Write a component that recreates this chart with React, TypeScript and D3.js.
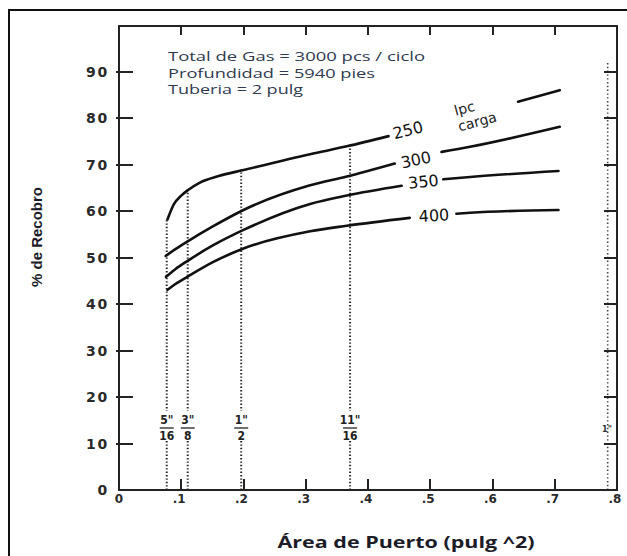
import React from 'react';
import * as d3 from 'd3';

// port area (pulg^2) vs % recovery, one curve per injection pressure (lpc)
const pressures = ['250', '300', '350', '400'];

// null = curve is interrupted by its label
const area250 = [0.078, 0.088, 0.1, 0.111, 0.13, 0.16, 0.2, 0.307, 0.366, 0.433, null, 0.641, 0.708];
const rec250 = [58.3, 61.5, 63.4, 64.6, 66.2, 67.6, 68.9, 72.3, 74.0, 76.2, null, 83.6, 86.1];

const area300 = [0.075, 0.09, 0.111, 0.15, 0.2, 0.307, 0.366, 0.443, null, 0.518, 0.564, 0.708];
const rec300 = [50.4, 51.8, 53.6, 56.7, 60.3, 65.6, 67.5, 70.3, null, 72.8, 73.9, 78.2];

const area350 = [0.0755, 0.09, 0.111, 0.15, 0.2, 0.307, 0.366, 0.454, null, 0.521, 0.564, 0.706];
const rec350 = [45.9, 47.5, 49.4, 52.6, 56.0, 61.6, 63.4, 65.5, null, 66.9, 67.4, 68.7];

const area400 = [0.078, 0.09, 0.111, 0.15, 0.2, 0.307, 0.366, 0.467, null, 0.542, 0.564, 0.706];
const rec400 = [43.1, 44.3, 46.0, 49.0, 52.0, 55.7, 56.9, 58.6, null, 59.5, 59.7, 60.3];

// where each pressure label sits (area, % recobro, rotation)
const labelArea = [0.464, 0.477, 0.489, 0.506];
const labelRec = [77.5, 71.1, 66.4, 59.1];
const labelRot = [-14, -12, -6, -3];

// port sizes (inch), vertical dotted lines
const portNum = ['5"', '3"', '1"', '11"'];
const portDen = ['16', '8', '2', '16'];
const portArea = [0.0767, 0.1104, 0.1963, 0.3712];
const portTop = [58.5, 65.0, 69.0, 74.0];

const yTicks = [0, 10, 20, 30, 40, 50, 60, 70, 80, 90];
const xTicks = [0, 0.1, 0.2, 0.3, 0.4, 0.5, 0.6, 0.7, 0.8];
const xTickLabels = ['0', '.1', '.2', '.3', '.4', '.5', '.6', '.7', '.8'];

const notes = ['Total de Gas = 3000 pcs / ciclo', 'Profundidad = 5940 pies', 'Tuberia = 2 pulg'];
const noteWidths = [257, 207, 135];

const W = 627;
const H = 556;

const x = d3.scaleLinear().domain([0, 0.8]).range([119, 617]);
const y = d3.scaleLinear().domain([0, 100]).range([490, 25.6]);

const ink = '#232323';

// plain html bar, used for the plot box and its ticks
function Bar({ left, top, width, height }: { left: number; top: number; width: number; height: number }) {
  return <div style={{ position: 'absolute', left, top, width, height, background: ink }} />;
}

export default function App() {
  const curves = [
    [area250, rec250],
    [area300, rec300],
    [area350, rec350],
    [area400, rec400],
  ].map(([a, r]) => a.map((v, i) => ({ a: v, r: r[i] })));

  const line = d3
    .line<any>()
    .defined((d) => d.a != null && d.r != null)
    .x((d) => x(d.a))
    .y((d) => y(d.r))
    .curve(d3.curveMonotoneX);

  const x0 = x(0);
  const x1 = x(0.8);
  const y0 = y(0);
  const y1 = y(100);
  const inner = xTicks.filter((t) => t > 0 && t < 0.8);
  const yIn = yTicks.filter((t) => t > 0);

  return (
    <div style={{ position: 'fixed', left: 0, top: 0, width: W, height: H, background: '#fff', overflow: 'hidden' }}>
      <svg width={W} height={H} style={{ position: 'absolute', left: 0, top: 0 }}>
        {/* outer frame, only top and left show */}
        <path d={`M9,${H}V10H${W}`} fill="none" stroke="#111" strokeWidth={2} />

        {/* notes */}
        {notes.map((t, i) => (
          <text key={t} x={168} y={61 + i * 16.5} fontFamily="Open Sans" fontSize={13.5} fill="#2f3a4f"
            textLength={noteWidths[i]} lengthAdjust="spacingAndGlyphs">
            {t}
          </text>
        ))}

        {/* dotted port lines */}
        {portArea.map((a, i) => (
          <line key={'p' + i} x1={x(a)} x2={x(a)} y1={y0} y2={y(portTop[i])}
            stroke="#2a2a2a" strokeWidth={2} strokeDasharray="1.4,2" />
        ))}
        <line x1={x(0.785)} x2={x(0.785)} y1={y0} y2={y(92)} stroke="#444" strokeWidth={1.6} strokeDasharray="1.4,2.4" />

        {/* fraction labels */}
        {portArea.map((a, i) => (
          <g key={'f' + i} transform={`translate(${x(a)},0)`} fontFamily="DejaVu Sans Condensed" fontWeight={700} fontSize={12} fill="#222">
            <rect x={-8} y={411} width={16} height={30} fill="#fff" />
            <text x={0} y={424} textAnchor="middle">{portNum[i]}</text>
            <line x1={-7} x2={7} y1={428} y2={428} stroke="#222" strokeWidth={1.3} />
            <text x={0} y={440} textAnchor="middle">{portDen[i]}</text>
          </g>
        ))}
        <text x={607} y={432} fontFamily="DejaVu Sans Condensed" fontWeight={700} fontSize={9} fill="#333" textAnchor="middle">1"</text>

        {yTicks.map((t) => (
          <text key={'yl' + t} x={109} y={y(t) + 5} textAnchor="end" fontFamily="DejaVu Sans" fontWeight={700}
            fontSize={14} letterSpacing={1.8} fill="#2a2a2a">
            {t}
          </text>
        ))}
        {xTicks.map((t, i) => (
          <text key={'xl' + t} x={x(t) - (i === 0 ? 0 : 2)} y={503} textAnchor="middle" fontFamily="DejaVu Sans"
            fontWeight={700} fontSize={12} fill="#2a2a2a">
            {xTickLabels[i]}
          </text>
        ))}

        {/* curves */}
        {curves.map((c, i) => (
          <path key={pressures[i]} d={line(c) || ''} fill="none" stroke="#111" strokeWidth={2.6} strokeLinecap="round" />
        ))}

        {/* pressure labels */}
        {pressures.map((p, i) => (
          <text key={'l' + p} transform={`translate(${x(labelArea[i])},${y(labelRec[i])}) rotate(${labelRot[i]})`}
            textAnchor="middle" dy="0.35em" fontFamily="DejaVu Sans" fontSize={16} fill="#111">
            {p}
          </text>
        ))}
        <g transform={`translate(${x(0.573)},${y(80.6)}) rotate(-15)`} fontFamily="DejaVu Sans" fontSize={14} fill="#222">
          <text x={-9} y={-5} textAnchor="middle">lpc</text>
          <text x={0} y={11} textAnchor="middle">carga</text>
        </g>

        {/* axis titles */}
        <text transform="translate(42,237) rotate(-90)" textAnchor="middle" fontFamily="Liberation Sans Narrow, Liberation Sans"
          fontWeight={700} fontSize={15} fill="#1c1c28">
          % de Recobro
        </text>
        <text x={406} y={548} textAnchor="middle" fontFamily="Open Sans" fontWeight={700} fontSize={16.5} fill="#1c1c28"
          textLength={257} lengthAdjust="spacingAndGlyphs">
          Área de Puerto (pulg ^2)
        </text>
      </svg>

      {/* plot box and inward ticks, as html bars on top */}
      <Bar left={x0 - 1} top={y1 - 1} width={2} height={y0 - y1 + 2} />
      <Bar left={x1 - 1} top={y1 - 1} width={2} height={y0 - y1 + 2} />
      <Bar left={x0 - 1} top={y0 - 1} width={x1 - x0 + 2} height={2} />
      <Bar left={x0 - 1} top={y1 - 1} width={x1 - x0 + 2} height={2} />
      {yIn.map((t) => (
        <React.Fragment key={'yt' + t}>
          <Bar left={x0 - 3} top={y(t) - 1} width={17} height={2} />
          <Bar left={x1 - 13} top={y(t) - 1} width={13} height={2} />
        </React.Fragment>
      ))}
      {inner.map((t) => (
        <React.Fragment key={'xt' + t}>
          <Bar left={x(t) - 1} top={y0 - 11} width={2} height={11} />
          <Bar left={x(t) - 1} top={y1} width={2} height={9} />
        </React.Fragment>
      ))}
    </div>
  );
}
